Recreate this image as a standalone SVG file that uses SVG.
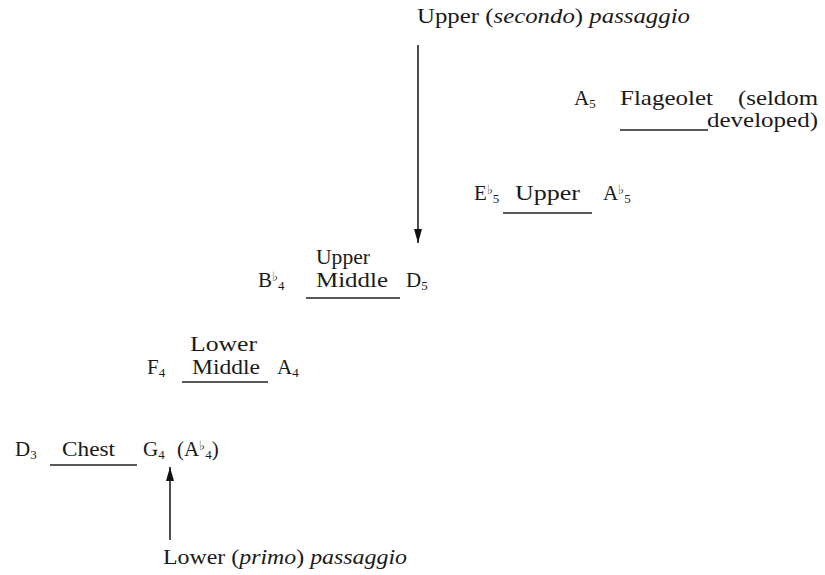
<svg xmlns="http://www.w3.org/2000/svg" width="825" height="575" viewBox="0 0 825 575">
<style>
text{font-family:"Liberation Serif","Times New Roman",serif;font-size:21px;fill:#1a1a1a}
.s{font-size:13px}
.f{font-size:13px}
.u{stroke:#222;stroke-width:1.5}
.c{stroke:#222;stroke-width:1.6;fill:none}
</style>
<defs>
<marker id="ah" viewBox="0 0 14 8" refX="14" refY="4" markerWidth="14" markerHeight="8" markerUnits="userSpaceOnUse" orient="auto-start-reverse">
<path d="M0,0 L14,4 L0,8 z" fill="#111"/>
</marker>
</defs>
<rect width="825" height="575" fill="#fff"/>
<g id="connectors">
<line class="c" x1="418" y1="45" x2="418" y2="243" marker-end="url(#ah)"/>
<line class="c" x1="170" y1="540" x2="170" y2="467" marker-end="url(#ah)"/>
</g>
<g id="label-upper-passaggio">
<text x="417" y="23" textLength="273" lengthAdjust="spacingAndGlyphs">Upper (<tspan font-style="italic">secondo</tspan>) <tspan font-style="italic">passaggio</tspan></text>
</g>
<g id="flageolet">
<text x="574" y="105">A<tspan class="s" dy="3">5</tspan></text>
<text x="620" y="105" textLength="93" lengthAdjust="spacingAndGlyphs">Flageolet</text>
<text x="738" y="105" textLength="80" lengthAdjust="spacingAndGlyphs">(seldom</text>
<text x="707" y="127" textLength="111" lengthAdjust="spacingAndGlyphs">developed)</text>
<line class="u" x1="620" y1="130" x2="708" y2="130"/>
</g>
<g id="upper">
<text x="474" y="200">E<tspan class="f" dy="-6">♭</tspan><tspan class="s" dy="9">5</tspan></text>
<text x="515" y="200" textLength="65" lengthAdjust="spacingAndGlyphs">Upper</text>
<text x="603" y="200">A<tspan class="f" dy="-6">♭</tspan><tspan class="s" dy="9">5</tspan></text>
<line class="u" x1="503" y1="213" x2="592" y2="213"/>
</g>
<g id="upper-middle">
<text x="316" y="264" textLength="54" lengthAdjust="spacingAndGlyphs">Upper</text>
<text x="258" y="287">B<tspan class="f" dy="-6">♭</tspan><tspan class="s" dy="9">4</tspan></text>
<text x="316" y="287" textLength="72" lengthAdjust="spacingAndGlyphs">Middle</text>
<text x="406" y="287">D<tspan class="s" dy="3">5</tspan></text>
<line class="u" x1="306" y1="298" x2="400" y2="298"/>
</g>
<g id="lower-middle">
<text x="190" y="351" textLength="67" lengthAdjust="spacingAndGlyphs">Lower</text>
<text x="147" y="374">F<tspan class="s" dy="3">4</tspan></text>
<text x="192" y="374" textLength="68" lengthAdjust="spacingAndGlyphs">Middle</text>
<text x="277" y="374">A<tspan class="s" dy="3">4</tspan></text>
<line class="u" x1="182" y1="382" x2="268" y2="382"/>
</g>
<g id="chest">
<text x="15" y="456">D<tspan class="s" dy="3">3</tspan></text>
<text x="62" y="456" textLength="53" lengthAdjust="spacingAndGlyphs">Chest</text>
<text x="143" y="456">G<tspan class="s" dy="3">4</tspan></text>
<text x="177" y="456">(A<tspan class="f" dy="-6">♭</tspan><tspan class="s" dy="9">4</tspan><tspan dy="-3">)</tspan></text>
<line class="u" x1="50" y1="465" x2="137" y2="465"/>
</g>
<g id="label-lower-passaggio">
<text x="163" y="564" textLength="244" lengthAdjust="spacingAndGlyphs">Lower (<tspan font-style="italic">primo</tspan>) <tspan font-style="italic">passaggio</tspan></text>
</g>
</svg>
